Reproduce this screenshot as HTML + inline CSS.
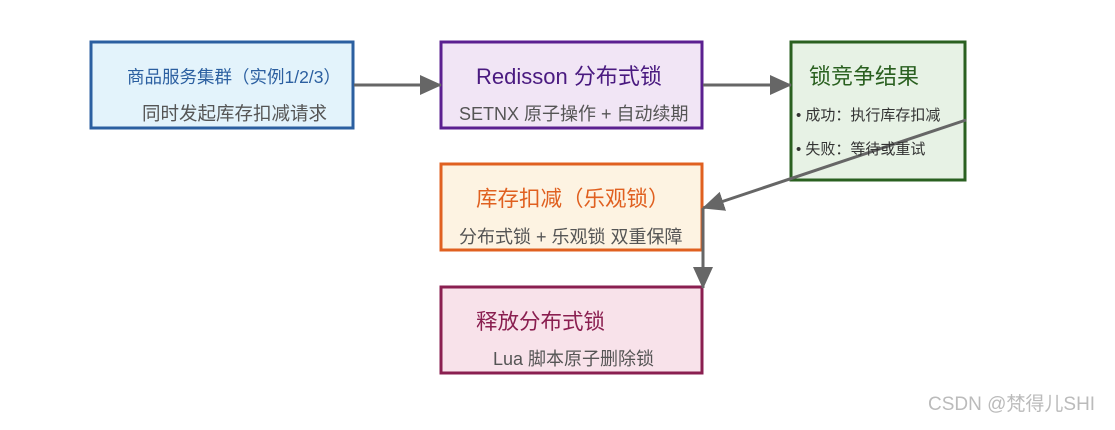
<!DOCTYPE html>
<html><head><meta charset="utf-8"><style>
body{margin:0;background:#fff;}
svg text{font-family:"Liberation Sans","Noto Sans CJK SC",sans-serif;}
</style></head><body>
<svg width="1115" height="425" xmlns="http://www.w3.org/2000/svg">
<defs>
<marker id="b" markerWidth="22" markerHeight="20" refX="21" refY="10" orient="auto" markerUnits="userSpaceOnUse"><path d="M0,0 L22,10 L0,20 z" fill="#666"/></marker></defs>
<rect x="91" y="42" width="262" height="86" fill="#e3f3fb" stroke="#2b5fa0" stroke-width="3"/>
<rect x="441" y="42" width="261" height="86" fill="#f1e5f5" stroke="#5b2090" stroke-width="3"/>
<rect x="791" y="42" width="174" height="138" fill="#e7f2e5" stroke="#2a6020" stroke-width="3"/>
<rect x="441" y="164" width="261" height="86" fill="#fdf3e2" stroke="#e06020" stroke-width="3"/>
<rect x="441" y="287" width="261" height="86" fill="#f8e2ea" stroke="#8a1f50" stroke-width="3"/>
<g stroke="#666" stroke-width="3" fill="none">
<line x1="354" y1="85" x2="441" y2="85" marker-end="url(#b)"/>
<line x1="703" y1="85" x2="791" y2="85" marker-end="url(#b)"/>
<line x1="966" y1="120" x2="703" y2="208" marker-end="url(#b)"/>
<line x1="703" y1="208" x2="703" y2="288" marker-end="url(#b)"/>
</g>
<text x="127" y="83" font-size="17.5" fill="#2b5fa0">商品服务集群（实例1/2/3）</text>
<text x="142" y="120" font-size="18.5" fill="#555">同时发起库存扣减请求</text>
<text x="476" y="84" font-size="22" fill="#4a1a80">Redisson 分布式锁</text>
<text x="459" y="120" font-size="18" fill="#555">SETNX 原子操作 + 自动续期</text>
<text x="809" y="84" font-size="22" fill="#2a6020">锁竞争结果</text>
<text x="796" y="120" font-size="15" fill="#333">•  成功：执行库存扣减</text>
<text x="796" y="154" font-size="15" fill="#333">•  失败：等待或重试</text>
<text x="476" y="206" font-size="21.5" fill="#e06020">库存扣减（乐观锁）</text>
<text x="459" y="243" font-size="18" fill="#555">分布式锁 + 乐观锁 双重保障</text>
<text x="476" y="329" font-size="21.5" fill="#8a1f50">释放分布式锁</text>
<text x="493" y="365" font-size="18" fill="#555">Lua 脚本原子删除锁</text>
<text x="928" y="410" font-size="19" fill="#bbb">CSDN @梵得儿SHI</text>
</svg>
</body></html>
